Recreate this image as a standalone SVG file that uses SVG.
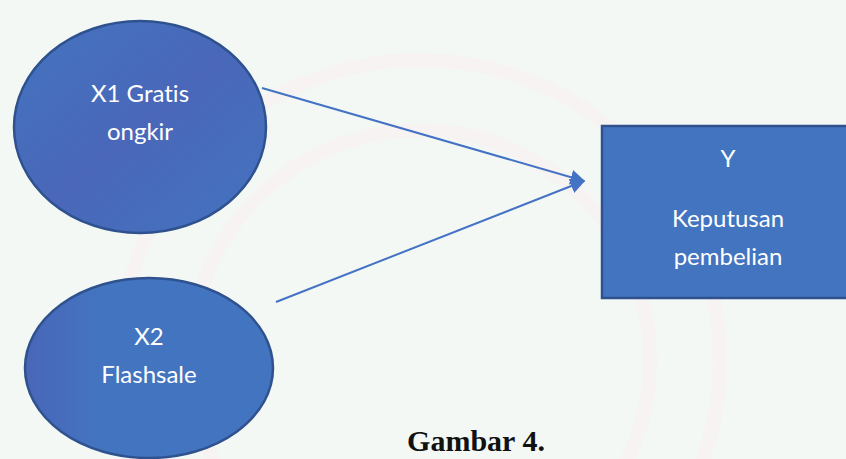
<svg xmlns="http://www.w3.org/2000/svg" width="846" height="459" viewBox="0 0 846 459">
<defs>
<linearGradient id="g1" x1="0" y1="0" x2="1" y2="1">
<stop offset="0" stop-color="#4374C0"/>
<stop offset="0.5" stop-color="#4A67B9"/>
<stop offset="1" stop-color="#4374C0"/>
</linearGradient>
<linearGradient id="g2" x1="0" y1="0" x2="1" y2="0">
<stop offset="0" stop-color="#4A66B8"/>
<stop offset="0.3" stop-color="#4374C0"/>
<stop offset="1" stop-color="#4374C0"/>
</linearGradient>
<marker id="arr" viewBox="0 0 10 10" refX="9" refY="5" markerWidth="7.5" markerHeight="8" orient="auto" markerUnits="strokeWidth">
<path d="M0,0 L10,5 L0,10 z" fill="#4472C4"/>
</marker>
<style>
.node{stroke:#2F528F;stroke-width:2.5}
.lbl{font-family:Lato,"Open Sans","Noto Sans",sans-serif;font-size:24px;fill:#FFFFFF;text-anchor:middle;font-variant-ligatures:none}
.conn{stroke:#4472C4;stroke-width:2;fill:none}
</style>
</defs>
<rect x="0" y="0" width="846" height="459" fill="#F3F8F5"/>
<g id="watermark" fill="none" stroke="#FBF0F0" stroke-width="14" opacity="0.5">
<circle cx="420" cy="360" r="300"/>
<circle cx="420" cy="360" r="230"/>
</g>
<g id="connectors">
<line class="conn" x1="262" y1="88" x2="584" y2="181" marker-end="url(#arr)"/>
<line class="conn" x1="276" y1="302" x2="584" y2="181" marker-end="url(#arr)"/>
</g>
<g id="x1">
<ellipse class="node" cx="140" cy="127" rx="126" ry="106" fill="url(#g1)"/>
<text class="lbl" x="140" y="102">X1 Gratis</text>
<text class="lbl" x="140" y="140">ongkir</text>
</g>
<g id="x2">
<ellipse class="node" cx="149" cy="368" rx="124" ry="90" fill="url(#g2)"/>
<text class="lbl" x="149" y="345">X2</text>
<text class="lbl" x="149" y="383">Flashsale</text>
</g>
<g id="y">
<rect class="node" x="602" y="126" width="260" height="172" fill="#4374C0"/>
<text class="lbl" x="728" y="167">Y</text>
<text class="lbl" x="728" y="227">Keputusan</text>
<text class="lbl" x="728" y="265">pembelian</text>
</g>
<text x="476" y="451" font-family="'Liberation Serif','Times New Roman',serif" font-weight="bold" font-size="30" fill="#111111" text-anchor="middle">Gambar 4.</text>
</svg>
